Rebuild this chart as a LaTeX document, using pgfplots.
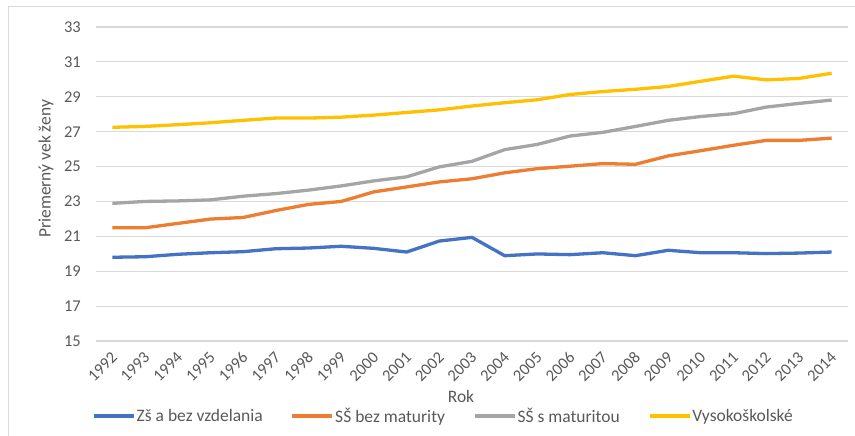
\documentclass[border=0pt]{standalone}
\usepackage{fontspec}
\setmainfont{Carlito}
\usepackage{pgfplots}
\usepackage{pgfplotstable}
\pgfplotsset{compat=1.18}
\definecolor{cblue}{HTML}{4472C4}
\definecolor{corange}{HTML}{ED7D31}
\definecolor{cgray}{HTML}{A5A5A5}
\definecolor{cyellow}{HTML}{FFC000}
\definecolor{cgrid}{HTML}{D9D9D9}
\definecolor{ctext}{HTML}{595959}
\pgfplotstableread{
x blue orange gray yellow
0 19.80 21.49 22.89 27.25
1 19.83 21.49 23.00 27.30
2 19.97 21.74 23.03 27.40
3 20.06 21.99 23.09 27.51
4 20.12 22.08 23.30 27.65
5 20.29 22.48 23.45 27.78
6 20.33 22.83 23.65 27.78
7 20.43 23.00 23.89 27.83
8 20.31 23.55 24.18 27.95
9 20.10 23.83 24.41 28.10
10 20.73 24.12 24.98 28.25
11 20.94 24.30 25.30 28.47
12 19.89 24.64 25.97 28.66
13 19.99 24.88 26.27 28.83
14 19.95 25.02 26.75 29.13
15 20.06 25.17 26.96 29.30
16 19.89 25.13 27.30 29.43
17 20.20 25.61 27.65 29.59
18 20.06 25.91 27.87 29.89
19 20.06 26.22 28.03 30.18
20 20.01 26.50 28.41 29.97
21 20.04 26.50 28.62 30.05
22 20.10 26.63 28.81 30.35
}\datatable
\begin{document}
\begin{tikzpicture}
\useasboundingbox (0,0) rectangle (855bp,436bp);
\draw[cgrid, line width=1bp] (8bp,0) -- (8bp,429bp) -- (855bp,429bp);
\begin{axis}[
  at={(96bp,95bp)}, anchor=south west,
  scale only axis, width=752bp, height=314bp,
  xmin=-0.5, xmax=22.5, ymin=15, ymax=33,
  ytick={15,17,...,33},
  xtick={0,...,22},
  xticklabels={1992,1993,1994,1995,1996,1997,1998,1999,2000,2001,2002,2003,2004,2005,2006,2007,2008,2009,2010,2011,2012,2013,2014},
  axis line style={draw=none},
  major tick length=0pt,
  ymajorgrids, grid style={cgrid, line width=1.2bp},
  /pgf/number format/assume math mode=true,
  ticklabel style={font=\fontsize{16.5bp}{19bp}\selectfont, text=ctext},
  yticklabel style={inner sep=0pt, xshift=-15bp},
  xticklabel style={xshift=2bp, yshift=-14bp, rotate=45, anchor=east, inner sep=0pt},
  xlabel={Rok},
  ylabel={Priemerný vek ženy},
  label style={font=\fontsize{17.5bp}{20bp}\selectfont, text=ctext},
  xlabel style={at={(axis description cs:0.4854,-0.178)}, anchor=center},
  ylabel style={at={(axis description cs:-0.0665,0.548)}, anchor=center},
  legend columns=4,
  legend style={draw=none, fill=none, inner sep=0pt, anchor=west,
    at={(axis description cs:-0.0053,-0.2389)},
    font=\fontsize{17.5bp}{20bp}\selectfont, text=ctext,
    nodes={inner sep=1bp},
    /tikz/every even column/.append style={column sep=27bp}},
  legend cell align=left,
  legend image code/.code={\draw[#1, line width=3.5bp] (0bp,0bp) -- (40bp,0bp);},
]
\addplot[cblue, line width=3.3bp] table[x=x, y=blue] {\datatable};
\addlegendentry{Zš a bez vzdelania}
\addplot[corange, line width=3.3bp] table[x=x, y=orange] {\datatable};
\addlegendentry{SŠ bez maturity}
\addplot[cgray, line width=3.3bp] table[x=x, y=gray] {\datatable};
\addlegendentry{SŠ s maturitou}
\addplot[cyellow, line width=3.3bp] table[x=x, y=yellow] {\datatable};
\addlegendentry{Vysokoškolské}
\end{axis}
\end{tikzpicture}
\end{document}
